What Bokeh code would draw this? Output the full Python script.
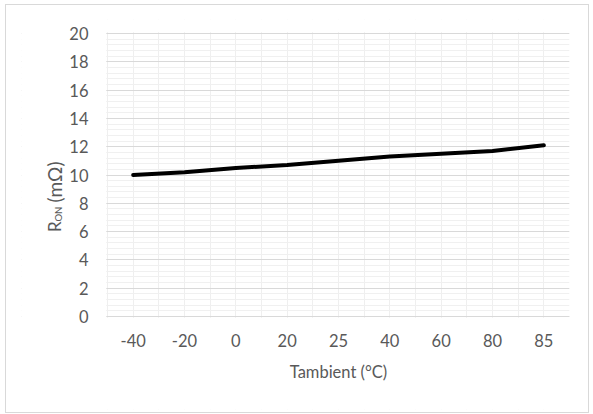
import math
from bokeh.plotting import figure
from bokeh.models import Range1d, FixedTicker, SingleIntervalTicker, Label, BoxAnnotation
from bokeh.embed import file_html
from bokeh.resources import INLINE

# ---- data ----
categories = ["-40", "-20", "0", "20", "25", "40", "60", "80", "85"]
r_on = [10.0, 10.2, 10.5, 10.7, 11.0, 11.3, 11.5, 11.7, 12.1]
y_ticks = list(range(0, 21, 2))
y_title_parts = ["R", "ON", " (mΩ)"]
x_title = "Tambient (°C)"

FONT = "Lato"
TXT = "#595959"
FS = "16.5px"

idx = list(range(len(categories)))
n = len(categories)

# ---- geometry (page pixels) ----
W, H = 584, 409           # figure size; figure placed at page (5, 4)
OX, OY = 5, 4
PL, PR, PT, PB = 106, 568, 32, 315   # plot area
FL, FT, FB = 20, 18, 408               # frame extends beyond plot area to hold texts
sx = n / (PR - PL)                     # data units per px (x)
sy = 20 / (PB - PT)                    # data units per px (y)
x0 = -0.5 - (PL - FL) * sx
y0 = 0 - (FB - PB) * sy
y1 = 20 + (PT - FT) * sy

def dx(px):
    return -0.5 + (px - PL) * sx

def dy(py):
    return (PB - py) * sy

p = figure(width=W, height=H, output_backend="svg", toolbar_location=None,
           x_range=Range1d(x0, n - 0.5), y_range=Range1d(y0, y1),
           min_border_left=FL - OX, min_border_right=OX + W - PR,
           min_border_top=FT - OY, min_border_bottom=OY + H - FB)
p.styles = {"border": "1px solid #d9d9d9", "box-sizing": "border-box", "margin": "4px 0 0 5px"}
p.outline_line_color = None
p.background_fill_color = "white"
p.border_fill_color = "white"

# grids
p.ygrid.ticker = SingleIntervalTicker(interval=2, num_minor_ticks=5)
p.ygrid.bounds = (0, 20)
p.ygrid.grid_line_color = "#d9d9d9"
p.ygrid.minor_grid_line_color = "#f0f0f0"
p.xgrid.ticker = FixedTicker(ticks=[i * 0.5 - 0.5 for i in range(2 * n + 1)])
p.xgrid.grid_line_color = "#efefef"
# mask grid lines outside the plot area (text zones)
mask = dict(fill_color="white", fill_alpha=1.0, line_color=None, level="underlay")
p.add_layout(BoxAnnotation(right=-0.5 - 1.2 * sx, **mask))
p.add_layout(BoxAnnotation(top=0 - 1.2 * sy, **mask))
p.add_layout(BoxAnnotation(bottom=20 + 1.2 * sy, **mask))

# x axis drawn at y = 0 inside the frame
p.xaxis.fixed_location = 0
p.xaxis.bounds = (-0.5, n - 0.5)
p.xaxis.ticker = FixedTicker(ticks=idx)
p.xaxis.major_label_overrides = {i: c for i, c in zip(idx, categories)}
p.xaxis.axis_line_color = "#d9d9d9"
p.xaxis.major_tick_line_color = None
p.xaxis.minor_tick_line_color = None
p.xaxis.major_tick_out = 0
p.xaxis.major_tick_in = 0
p.xaxis.major_label_standoff = 17
p.xaxis.major_label_text_font = FONT
p.xaxis.major_label_text_font_size = FS
p.xaxis.major_label_text_color = TXT

# y axis drawn at x = -0.5 inside the frame
p.yaxis.fixed_location = -0.5
p.yaxis.bounds = (0, 20)
p.yaxis.ticker = FixedTicker(ticks=y_ticks)
p.yaxis.axis_line_color = None
p.yaxis.major_tick_line_color = None
p.yaxis.minor_tick_line_color = None
p.yaxis.major_tick_out = 0
p.yaxis.major_tick_in = 0
p.yaxis.major_label_standoff = 19
p.yaxis.major_label_text_font = FONT
p.yaxis.major_label_text_font_size = FS
p.yaxis.major_label_text_color = TXT

# titles
p.add_layout(Label(x=dx(337), y=dy(370.5), text=x_title, text_align="center",
                   text_baseline="middle", text_font=FONT, text_font_size=FS, text_color=TXT))
ang = math.pi / 2
parts_pos = [(53.0, 230.5, "17px"), (56.5, 220.0, "9.5px"), (53.0, 201.0, "19px")]
for t, (px, py, fs) in zip(y_title_parts, parts_pos):
    p.add_layout(Label(x=dx(px), y=dy(py), text=t, angle=ang, text_align="left",
                       text_baseline="alphabetic", text_font=FONT, text_font_size=fs,
                       text_color=TXT))

# series
p.line(idx, r_on, line_color="black", line_width=4, line_join="round", line_cap="round")

open("out.html", "w").write(file_html(p, INLINE))
